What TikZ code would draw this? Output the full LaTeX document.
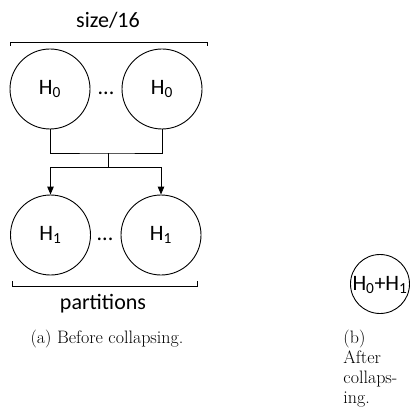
\documentclass[tikz,border=0pt]{standalone}
\usepackage{fontspec}
\setmainfont{Latin Modern Roman}
\newfontfamily\diagfont{Carlito}
\usetikzlibrary{arrows.meta,calc}
\begin{document}
\begin{tikzpicture}[x=1pt,y=-1pt,
  line width=0.9pt,
  hashnode/.style={circle,draw,minimum size=80pt,inner sep=0pt,
    font=\diagfont\fontsize{22}{26}\selectfont},
  lbl/.style={font=\diagfont\fontsize{22}{26}\selectfont,inner sep=0pt},
  caption/.style={font=\fontsize{18}{20}\selectfont,inner sep=0pt},
  flow/.style={-{Triangle[length=8pt,width=6.5pt]}},
]
\useasboundingbox (0,0) rectangle (409,414);

% (a) before collapsing
\node[lbl,anchor=base] (size) at (108,28) {size/16};
\coordinate (tl) at (10,46);
\coordinate (tr) at (207,46);
\draw (tl) -- ++(0,-4) -| (tr);

\node[hashnode] (a0) at (50,89) {H\textsubscript{0}};
\node[hashnode] (b0) at (162,89) {H\textsubscript{0}};
\node[lbl] (dots0) at (106,93) {...};

\node[hashnode] (a1) at (50.5,235) {H\textsubscript{1}};
\node[hashnode] (b1) at (161,235) {H\textsubscript{1}};
\node[lbl] (dots1) at (105,239) {...};

\coordinate (join) at (108,153);
\coordinate (split) at (108,167);
\draw (a0.south) |- (join) -| (b0.south);
\draw (join) -- (split);
\draw[flow] (split) -| (a1.north);
\draw[flow] (split) -| (b1.north);

\coordinate (bl) at (12,281);
\coordinate (br) at (197,281);
\draw (bl) -- ++(0,5) -| (br);
\node[lbl,anchor=base] (parts) at (103,309) {partitions};
\node[caption,anchor=base] (capa) at (107,343) {(a) Before collapsing.};

% (b) after collapsing: narrow caption, one line per node
\node[hashnode,minimum size=59pt] (ab) at (380,284) {};
\node[lbl] (abtxt) at (380,285) {H\textsubscript{0}+H\textsubscript{1}};
\node[caption,anchor=base west] (capb1) at (343,343) {(b)};
\node[caption,anchor=base west] (capb2) at (343,363) {After};
\node[caption,anchor=base west] (capb3) at (343,383) {collaps-};
\node[caption,anchor=base west] (capb4) at (343,403) {ing.};
\end{tikzpicture}
\end{document}
